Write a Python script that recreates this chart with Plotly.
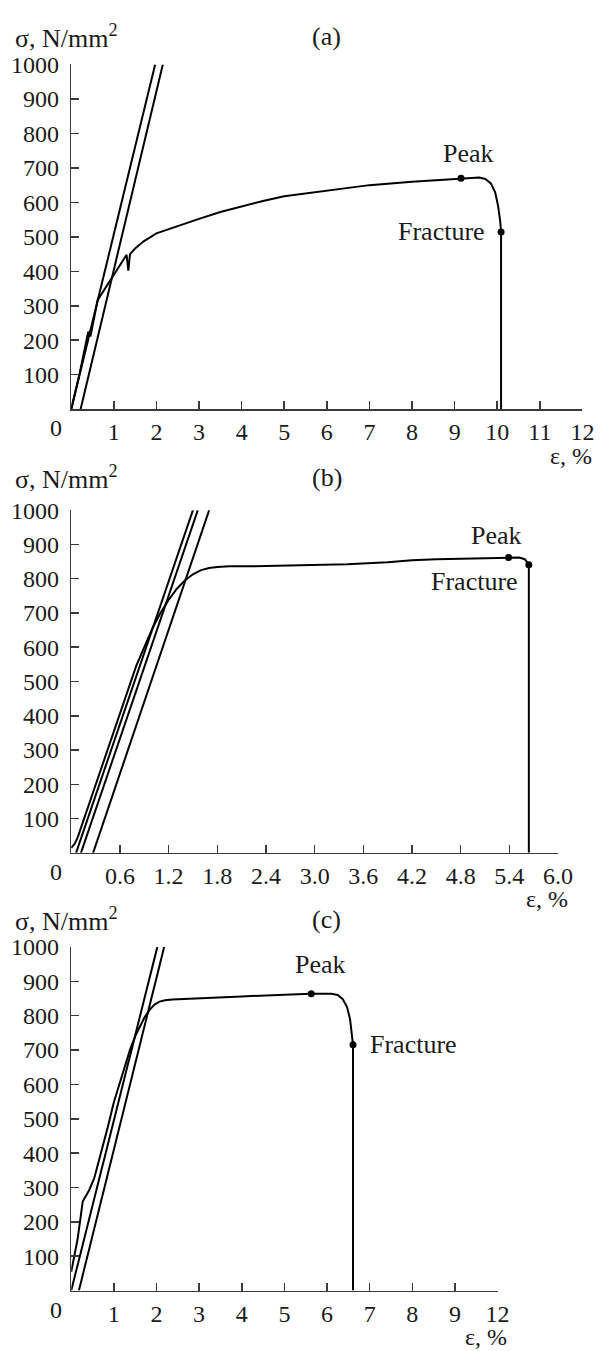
import plotly.graph_objects as go

# ---------------- data ----------------
# Panel (a)
a_line1_x = [0.0, 1.97]
a_line1_y = [0, 1000]
a_line2_x = [0.22, 2.15]
a_line2_y = [0, 1000]
a_curve_x = [0, 0.2, 0.40, 0.45, 0.62, 0.75, 0.85, 1.0, 1.15, 1.30, 1.34, 1.38, 1.5, 1.7, 2.0, 2.5,
             3.0, 3.5, 4.0, 4.5, 5.0, 6.0, 7.0, 8.0, 9.0, 9.15, 9.4, 9.58, 9.72, 9.85, 9.95, 10.02,
             10.07, 10.09, 10.09]
a_curve_y = [0, 105, 225, 211, 316, 342, 362, 390, 420, 448, 402, 450, 466, 487, 510, 532,
             552, 572, 589, 604, 618, 635, 650, 660, 668, 670, 672, 672, 668, 655, 630, 590,
             545, 514, 0]
a_peak = (9.15, 670)
a_fracture = (10.09, 514)
a_xticks = [1, 2, 3, 4, 5, 6, 7, 8, 9, 10, 11, 12]
a_xticktext = ["1", "2", "3", "4", "5", "6", "7", "8", "9", "10", "11", "12"]

# Panel (b)
b_line1_x = [0.06, 1.50]
b_line2_x = [0.12, 1.56]
b_line3_x = [0.27, 1.70]
b_line_y = [0, 1000]
b_curve_x = [0, 0.04, 0.08, 0.13, 0.2, 0.4, 0.6, 0.8, 1.0, 1.1, 1.2, 1.3, 1.4, 1.5, 1.6, 1.7,
             1.8, 1.95, 2.2, 2.8, 3.4, 3.9, 4.2, 4.5, 5.0, 5.39, 5.52, 5.59, 5.63, 5.64, 5.64]
b_curve_y = [15, 25, 45, 80, 130, 270, 410, 545, 655, 700, 738, 770, 795, 813, 825, 831,
             834, 836, 836, 838, 842, 848, 854, 857, 860, 862, 862, 857, 845, 841, 0]
b_peak = (5.39, 862)
b_fracture = (5.64, 841)
b_xticks = [0.6, 1.2, 1.8, 2.4, 3.0, 3.6, 4.2, 4.8, 5.4, 6.0]
b_xticktext = ["0.6", "1.2", "1.8", "2.4", "3.0", "3.6", "4.2", "4.8", "5.4", "6.0"]

# Panel (c)
c_line1_x = [0.0, 2.02]
c_line2_x = [0.18, 2.18]
c_line_y = [0, 1000]
c_curve_x = [0, 0.15, 0.27, 0.32, 0.42, 0.54, 0.7, 0.85, 1.0, 1.2, 1.38, 1.5, 1.61, 1.72, 1.84,
             1.95, 2.07, 2.2, 2.37, 3.0, 4.0, 5.0, 5.63, 6.1, 6.25, 6.37, 6.47, 6.54, 6.58, 6.61, 6.61]
c_curve_y = [55, 150, 259, 270, 292, 327, 400, 472, 548, 630, 701, 740, 769, 795, 817,
             832, 841, 845, 847, 851, 856, 861, 864, 864, 860, 848, 825, 790, 755, 715, 0]
c_peak = (5.63, 864)
c_fracture = (6.61, 715)
c_xticks = [1, 2, 3, 4, 5, 6, 7, 8, 9, 10]
c_xticktext = ["1", "2", "3", "4", "5", "6", "7", "8", "9", "12"]

y_ticks = [100, 200, 300, 400, 500, 600, 700, 800, 900, 1000]
y_ticktext = [str(v) for v in y_ticks]

# ---------------- layout helpers ----------------
W, H = 615, 1351
FONT = "Liberation Serif, Times New Roman, serif"
TXT = "#1a1a1a"
AX = "#3a3a3a"
TICK_FS = 24
ANN_FS = 26


def px(x):
    return x / W


def py(y):
    return 1 - y / H


# pixel geometry of each panel
panels = [
    dict(x0=73, x1=597, yt=52, yb=400, xmax=12, ticks=a_xticks, text=a_xticktext, lab="(a)", lab_y=24),
    dict(x0=73, x1=572, yt=502, yb=848, xmax=6.0, ticks=b_xticks, text=b_xticktext, lab="(b)", lab_y=469),
    dict(x0=73, x1=510, yt=943, yb=1290, xmax=10, ticks=c_xticks, text=c_xticktext, lab="(c)", lab_y=915),
]

fig = go.Figure()

line_style = dict(color="black", width=2)


def add_lines(xs, ys, idx):
    sfx = "" if idx == 1 else str(idx)
    fig.add_trace(go.Scatter(x=xs, y=ys, mode="lines", line=line_style,
                             xaxis="x" + sfx, yaxis="y" + sfx, showlegend=False,
                             hoverinfo="skip"))


def add_dots(pts, idx):
    sfx = "" if idx == 1 else str(idx)
    fig.add_trace(go.Scatter(x=[p[0] for p in pts], y=[p[1] for p in pts], mode="markers",
                             marker=dict(color="black", size=7),
                             xaxis="x" + sfx, yaxis="y" + sfx, showlegend=False,
                             cliponaxis=False, hoverinfo="skip"))


# panel a
add_lines(a_line1_x, a_line1_y, 1)
add_lines(a_line2_x, a_line2_y, 1)
add_lines(a_curve_x, a_curve_y, 1)
add_dots([a_peak, a_fracture], 1)
# panel b
add_lines(b_line1_x, b_line_y, 2)
add_lines(b_line2_x, b_line_y, 2)
add_lines(b_line3_x, b_line_y, 2)
add_lines(b_curve_x, b_curve_y, 2)
add_dots([b_peak, b_fracture], 2)
# panel c
add_lines(c_line1_x, c_line_y, 3)
add_lines(c_line2_x, c_line_y, 3)
add_lines(c_curve_x, c_curve_y, 3)
add_dots([c_peak, c_fracture], 3)

layout = dict(
    width=W, height=H,
    margin=dict(l=0, r=0, t=0, b=0),
    paper_bgcolor="white", plot_bgcolor="white",
    font=dict(family=FONT, size=TICK_FS, color=TXT),
    showlegend=False,
)

annotations = []
for i, p in enumerate(panels, start=1):
    sfx = "" if i == 1 else str(i)
    layout["xaxis" + sfx] = dict(
        domain=[px(p["x0"]), px(p["x1"])], range=[0, p["xmax"]],
        anchor="y" + sfx, showline=True, linecolor=AX, linewidth=1.5,
        ticks="inside", ticklen=8, tickwidth=1.5, tickcolor=AX,
        tickvals=p["ticks"], ticktext=p["text"], showgrid=False, zeroline=False,
        tickfont=dict(family=FONT, size=TICK_FS, color=TXT), ticklabelstandoff=1,
        fixedrange=True,
    )
    layout["yaxis" + sfx] = dict(
        domain=[py(p["yb"]), py(p["yt"])], range=[0, 1000],
        anchor="x" + sfx, showline=True, linecolor=AX, linewidth=1.5,
        ticks="inside", ticklen=8, tickwidth=1.5, tickcolor=AX,
        tickvals=y_ticks, ticktext=y_ticktext, showgrid=False, zeroline=False,
        tickfont=dict(family=FONT, size=TICK_FS, color=TXT), ticklabelstandoff=6,
        fixedrange=True,
    )
    annotations.append(dict(x=px(13), y=py(p["lab_y"]), xref="paper", yref="paper",
                            xanchor="left", yanchor="middle", showarrow=False,
                            text="σ, N/mm<sup>2</sup>", font=dict(size=26)))
    annotations.append(dict(x=px(335), y=py(p["lab_y"]), xref="paper", yref="paper",
                            xanchor="center", yanchor="middle", showarrow=False,
                            text=p["lab"], font=dict(size=ANN_FS)))
    annotations.append(dict(x=px(p["x1"] + 12), y=py(p["yb"] + 47), xref="paper", yref="paper",
                            xanchor="right", yanchor="middle", showarrow=False,
                            text="ε, %", font=dict(size=TICK_FS)))
    annotations.append(dict(x=0, y=0, xref="x" + sfx, yref="y" + sfx, xshift=-15, yshift=-19,
                            xanchor="center", yanchor="middle", showarrow=False,
                            text="0", font=dict(size=TICK_FS)))

# Peak / Fracture labels
annotations += [
    dict(x=a_peak[0], y=a_peak[1], xref="x", yref="y", xshift=7, yshift=25,
         xanchor="center", yanchor="middle", showarrow=False, text="Peak", font=dict(size=ANN_FS)),
    dict(x=a_fracture[0], y=a_fracture[1], xref="x", yref="y", xshift=-14, yshift=0,
         xanchor="right", yanchor="middle", showarrow=False, text="Fracture", font=dict(size=ANN_FS)),
    dict(x=b_peak[0], y=b_peak[1], xref="x2", yref="y2", xshift=-12, yshift=22,
         xanchor="center", yanchor="middle", showarrow=False, text="Peak", font=dict(size=ANN_FS)),
    dict(x=b_fracture[0], y=b_fracture[1], xref="x2", yref="y2", xshift=-9, yshift=-17,
         xanchor="right", yanchor="middle", showarrow=False, text="Fracture", font=dict(size=ANN_FS)),
    dict(x=c_peak[0], y=c_peak[1], xref="x3", yref="y3", xshift=9, yshift=29,
         xanchor="center", yanchor="middle", showarrow=False, text="Peak", font=dict(size=ANN_FS)),
    dict(x=c_fracture[0], y=c_fracture[1], xref="x3", yref="y3", xshift=15, yshift=0,
         xanchor="left", yanchor="middle", showarrow=False, text="Fracture", font=dict(size=ANN_FS)),
]
layout["annotations"] = annotations

fig.update_layout(**layout)
fig.write_html("out.html",
               config={"displayModeBar": False, "staticPlot": True},
               post_script="document.body.style.margin='0';document.body.style.overflow='hidden';")
